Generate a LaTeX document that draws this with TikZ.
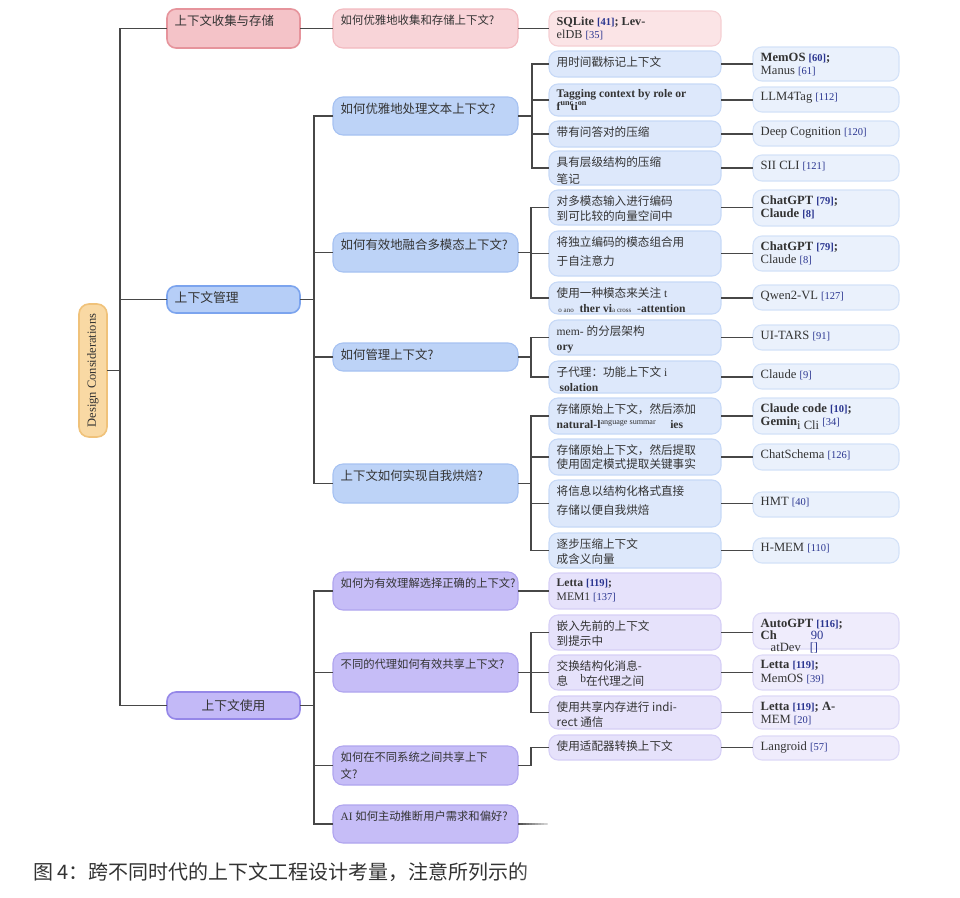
\documentclass[tikz,border=0pt]{standalone}
\usepackage{fontspec}
\setmainfont{Liberation Serif}
\newfontfamily\cjkfont{Noto Sans CJK SC}
\definecolor{linec}{HTML}{474747}
\definecolor{citec}{HTML}{2A3590}
\definecolor{txtc}{HTML}{333333}
\definecolor{rootf}{HTML}{F9D9A4}\definecolor{rootd}{HTML}{F0C27A}
\definecolor{raf}{HTML}{F4C3C8}\definecolor{rad}{HTML}{E6949C}
\definecolor{rbf}{HTML}{F8D4D8}\definecolor{rbd}{HTML}{F2B9BF}
\definecolor{rcf}{HTML}{FBE4E6}\definecolor{rcd}{HTML}{F5CFD3}
\definecolor{baf}{HTML}{B6CEF7}\definecolor{bad}{HTML}{7CA4EE}
\definecolor{bbf}{HTML}{BDD3F7}\definecolor{bbd}{HTML}{A6C2F2}
\definecolor{bcf}{HTML}{DDE8FB}\definecolor{bcd}{HTML}{C7D9F7}
\definecolor{bdf}{HTML}{EAF1FC}\definecolor{bdd}{HTML}{D4E2F8}
\definecolor{paf}{HTML}{C3B9F7}\definecolor{pad}{HTML}{9587E8}
\definecolor{pbf}{HTML}{C6BDF7}\definecolor{pbd}{HTML}{B0A5EF}
\definecolor{pcf}{HTML}{E6E2FB}\definecolor{pcd}{HTML}{D6CFF6}
\definecolor{pdf}{HTML}{EFECFC}\definecolor{pdd}{HTML}{DEDAF7}
\newcommand\zh[1]{{\cjkfont #1}}
\newcommand\ct[1]{{\color{citec}\fontsize{10.5}{12}\selectfont[#1]}}
\tikzset{
  boxbase/.style={rectangle, inner sep=0pt, outer sep=0pt, line width=1.1pt},
  txtbase/.style={inner sep=0pt, align=left, text=txtc},
  con/.style={draw=linec, line width=1.8pt},
  rootbox/.style={boxbase, fill=rootf, draw=rootd, line width=1.6pt, rounded corners=10pt},
  lra/.style={boxbase, fill=raf, draw=rad, line width=1.6pt, rounded corners=9pt},
  lrb/.style={boxbase, fill=rbf, draw=rbd, rounded corners=10pt},
  lrc/.style={boxbase, fill=rcf, draw=rcd, rounded corners=9pt},
  lba/.style={boxbase, fill=baf, draw=bad, line width=1.6pt, rounded corners=9pt},
  lbb/.style={boxbase, fill=bbf, draw=bbd, rounded corners=10pt},
  lbc/.style={boxbase, fill=bcf, draw=bcd, rounded corners=9pt},
  lbd/.style={boxbase, fill=bdf, draw=bdd, rounded corners=9pt},
  lpa/.style={boxbase, fill=paf, draw=pad, line width=1.6pt, rounded corners=9pt},
  lpb/.style={boxbase, fill=pbf, draw=pbd, rounded corners=10pt},
  lpc/.style={boxbase, fill=pcf, draw=pcd, rounded corners=9pt},
  lpd/.style={boxbase, fill=pdf, draw=pdd, rounded corners=9pt},
  lrat/.style={txtbase, font=\fontsize{12.4}{15}\selectfont},
  lrbt/.style={txtbase, font=\fontsize{11.4}{15}\selectfont},
  lrct/.style={txtbase, font=\fontsize{12.2}{13.5}\selectfont},
  lbat/.style={txtbase, font=\fontsize{12.8}{15}\selectfont},
  lbbt/.style={txtbase, font=\fontsize{12.4}{15}\selectfont},
  lbct/.style={txtbase, font=\fontsize{11.6}{15}\selectfont},
  lbdt/.style={txtbase, font=\fontsize{12.6}{13.5}\selectfont},
  lpat/.style={txtbase, font=\fontsize{12.8}{15}\selectfont},
  lpbt/.style={txtbase, font=\fontsize{11.3}{17}\selectfont},
  lpct/.style={txtbase, font=\fontsize{11.6}{15}\selectfont},
  lpdt/.style={txtbase, font=\fontsize{12.6}{13.5}\selectfont},
}
% #1 name, #2 style, #3 x1, #4 y1, #5 x2, #6 y2, #7 text
\newcommand\bx[7]{%
  \node[#2, minimum width={#5pt-#3pt}, minimum height={#6pt-#4pt}] (#1) at ({(#3+#5)/2},{(#4+#6)/2}) {};
  \node[#2t, anchor=north west] (#1t) at ([xshift=7.5pt,yshift=-5.5pt]#1.north west) {#7};
}
\begin{document}
\begin{tikzpicture}[x=1pt,y=-1pt]
\fill[white] (0,0) rectangle (960,897);
\useasboundingbox (0,0) rectangle (960,897);
% trunk coordinates
\coordinate (T0) at (120,0);
\coordinate (T1) at (314,0);
\coordinate (T2) at (531,0);
\coordinate (T2a) at (532,0);
% root
\node[rootbox, minimum width=28pt, minimum height=133pt] (root) at (93,370.5) {};
\node[rotate=90, font=\fontsize{12.5}{14}\selectfont, text=txtc] (rootlbl) at (root.center) {Design Considerations};
% red
\bx{R1}{lra}{167}{9}{300}{48}{\zh{上下文收集与存储}}
\bx{rA}{lrb}{333}{9}{518}{48}{\zh{如何优雅地收集和存储上下文?}}
\bx{rA1}{lrc}{549}{11}{721}{46}{\textbf{SQLite \ct{41}; Lev-}\\elDB \ct{35}}
% blue
\bx{B1}{lba}{167}{286}{300}{313}{\zh{上下文管理}}
\bx{bA}{lbb}{333}{97}{518}{135}{\zh{如何优雅地处理文本上下文?}}
\bx{bB}{lbb}{333}{233}{518}{272}{\zh{如何有效地融合多模态上下文?}}
\bx{bC}{lbb}{333}{343}{518}{371}{\zh{如何管理上下文?}}
\bx{bD}{lbb}{333}{464}{518}{503}{\zh{上下文如何实现自我烘焙?}}
\bx{bA1}{lbc}{549}{51}{721}{77}{\zh{用时间戳标记上下文}}
\bx{bA2}{lbc}{549}{84}{721}{116}{\textbf{Tagging context by role or}\\[-2.5pt]\textbf{f\textsuperscript{unc}\kern-3pt ti\textsuperscript{on}}}
\bx{bA3}{lbc}{549}{121}{721}{147}{\zh{带有问答对的压缩}}
\bx{bA4}{lbc}{549}{151}{721}{185}{\zh{具有层级结构的压缩}\\[2pt]\zh{笔记}}
\bx{bB1}{lbc}{549}{190}{721}{225}{\zh{对多模态输入进行编码}\\\zh{到可比较的向量空间中}}
\bx{bB2}{lbc}{549}{231}{721}{276}{\zh{将独立编码的模态组合用}\\[4pt]\zh{于自注意力}}
\bx{bB3}{lbc}{549}{282}{721}{314}{\zh{使用一种模态来关注} t\\{\scriptsize\ o ano}\ \ \textbf{ther vi}{\scriptsize a cross}\ \ \textbf{-attention}}
\bx{bC1}{lbc}{549}{320}{721}{355}{mem- \zh{的分层架构}\\\textbf{ory}}
\bx{bC2}{lbc}{549}{361}{721}{393}{\zh{子代理：功能上下文} i\\\ \textbf{solation}}
\bx{bD1}{lbc}{549}{398}{721}{434}{\zh{存储原始上下文，然后添加}\\\textbf{natural-l}\textsuperscript{anguage summar}\hspace{14pt}\textbf{ies}}
\bx{bD2}{lbc}{549}{439}{721}{475}{\zh{存储原始上下文，然后提取}\\[-1pt]\zh{使用固定模式提取关键事实}}
\bx{bD3}{lbc}{549}{480}{721}{527}{\zh{将信息以结构化格式直接}\\[4pt]\zh{存储以便自我烘焙}}
\bx{bD4}{lbc}{549}{533}{721}{568}{\zh{逐步压缩上下文}\\\zh{成含义向量}}
\bx{cA1}{lbd}{753}{47}{899}{81}{\textbf{MemOS \ct{60};}\\Manus \ct{61}}
\bx{cA2}{lbd}{753}{87}{899}{112}{LLM4Tag \ct{112}}
\bx{cA3}{lbd}{753}{121}{899}{146}{Deep Cognition \ct{120}}
\bx{cA4}{lbd}{753}{155}{899}{181}{SII CLI \ct{121}}
\bx{cB1}{lbd}{753}{190}{899}{226}{\textbf{ChatGPT \ct{79};}\\\textbf{Claude \ct{8}}}
\bx{cB2}{lbd}{753}{236}{899}{271}{\textbf{ChatGPT \ct{79};}\\Claude \ct{8}}
\bx{cB3}{lbd}{753}{285}{899}{310}{Qwen2-VL \ct{127}}
\bx{cC1}{lbd}{753}{325}{899}{350}{UI-TARS \ct{91}}
\bx{cC2}{lbd}{753}{364}{899}{389}{Claude \ct{9}}
\bx{cD1}{lbd}{753}{398}{899}{434}{\textbf{Claude code \ct{10};}\\\textbf{Gemin}\raisebox{-4pt}{i Cli}\ \ct{34}}
\bx{cD2}{lbd}{753}{444}{899}{470}{ChatSchema \ct{126}}
\bx{cD3}{lbd}{753}{492}{899}{517}{HMT \ct{40}}
\bx{cD4}{lbd}{753}{538}{899}{563}{H-MEM \ct{110}}
% purple
\node[lpa, minimum width=133pt, minimum height=27pt] (P1) at (233.5,705.5) {};
\node[lpat] (P1t) at (P1.center) {\zh{上下文使用}};
\bx{pA}{lpb}{333}{572}{518}{610}{\zh{如何为有效理解选择正确的上下文?}}
\bx{pB}{lpb}{333}{653}{518}{692}{\zh{不同的代理如何有效共享上下文?}}
\bx{pC}{lpb}{333}{746}{518}{785}{\zh{如何在不同系统之间共享上下}\\\zh{文?}}
\bx{pD}{lpb}{333}{805}{518}{843}{AI \zh{如何主动推断用户需求和偏好?}}
\bx{pA1}{lpc}{549}{573}{721}{609}{\textbf{Letta \ct{119};}\\[-1pt]MEM1 \ct{137}}
\bx{pB1}{lpc}{549}{615}{721}{650}{\zh{嵌入先前的上下文}\\\zh{到提示中}}
\bx{pB2}{lpc}{549}{655}{721}{690}{\zh{交换结构化消息-}\\\zh{息}\hspace{12pt}\raisebox{3pt}{b}\zh{在代理之间}}
\bx{pB3}{lpc}{549}{696}{721}{729}{\zh{使用共享内存进行 indi-}\\\zh{rect 通信}}
\bx{pC1}{lpc}{549}{735}{721}{760}{\zh{使用适配器转换上下文}}
\bx{qB1}{lpd}{753}{613}{899}{649}{\textbf{AutoGPT \ct{116};}\\[-1.5pt]\textbf{Ch}\hspace{34pt}{\color{citec}90}\\[-1pt]\hspace{10pt}atDev\hspace{9pt}{\color{citec}[]}}
\bx{qB2}{lpd}{753}{655}{899}{690}{\textbf{Letta \ct{119};}\\MemOS \ct{39}}
\bx{qB3}{lpd}{753}{696}{899}{729}{\textbf{Letta \ct{119}; A-}\\MEM \ct{20}}
\bx{qC1}{lpd}{753}{736}{899}{760}{Langroid \ct{57}}
% connectors: root level
\draw[con] (root.east) -- (root.east -| T0);
\draw[con] (R1.west) -| (P1.west -| T0) -- (P1.west);
\draw[con] (B1.west) -- (B1.west -| T0);
% red chain
\draw[con] (R1.east) -- (rA.west);
\draw[con] (rA.east) -- (rA1.west);
% blue level 2
\draw[con] (B1.east) -- (B1.east -| T1);
\draw[con] (bA.west) -| (bD.west -| T1) -- (bD.west);
\draw[con] (bB.west) -- (bB.west -| T1);
\draw[con] (bC.west) -- (bC.west -| T1);
% blue level 3
\draw[con] (bA.east) -- (bA.east -| T2a);
\draw[con] (bA1.west) -| (bA4.west -| T2a) -- (bA4.west);
\draw[con] (bA2.west) -- (bA2.west -| T2a);
\draw[con] (bA3.west) -- (bA3.west -| T2a);
\draw[con] (bB.east) -- (bB.east -| T2);
\draw[con] (bB1.west) -| (bB3.west -| T2) -- (bB3.west);
\draw[con] (bB2.west) -- (bB2.west -| T2);
\draw[con] (bC.east) -- (bC.east -| T2);
\draw[con] (bC1.west) -| (bC2.west -| T2) -- (bC2.west);
\draw[con] (bD.east) -- (bD.east -| T2);
\draw[con] (bD1.west) -| (bD4.west -| T2) -- (bD4.west);
\draw[con] (bD2.west) -- (bD2.west -| T2);
\draw[con] (bD3.west) -- (bD3.west -| T2);
% blue level 4
\foreach \a/\b in {bA1/cA1,bA2/cA2,bA3/cA3,bA4/cA4,bB1/cB1,bB2/cB2,bB3/cB3,bC1/cC1,bC2/cC2,bD1/cD1,bD2/cD2,bD3/cD3,bD4/cD4}
  \draw[con] (\a.east) -- (\a.east -| \b.west);
% purple level 2
\draw[con] (P1.east) -- (P1.east -| T1);
\draw[con] (pA.west) -| (pD.west -| T1) -- (pD.west);
\draw[con] (pB.west) -- (pB.west -| T1);
\draw[con] (pC.west) -- (pC.west -| T1);
% purple level 3
\draw[con] (pA.east) -- (pA.east -| pA1.west);
\draw[con] (pB.east) -- (pB.east -| T2);
\draw[con] (pB1.west) -| (pB3.west -| T2) -- (pB3.west);
\draw[con] (pB2.west) -- (pB2.west -| T2);
\draw[con] (pC.east) -| (pC1.west -| T2) -- (pC1.west);
\coordinate (pDend) at (548,824);
\draw[con] (pD.east) -- (pD.east -| pDend);
% purple level 4
\foreach \a/\b in {pB1/qB1,pB2/qB2,pB3/qB3,pC1/qC1}
  \draw[con] (\a.east) -- (\a.east -| \b.west);
% caption
\node[anchor=west, inner sep=0pt, text=txtc, font=\fontsize{20}{23}\selectfont] (cap) at (33,872) {\zh{图 4：跨不同时代的上下文工程设计考量，注意所列示的}};
% fade at lower right (stepwise white overlay)
\foreach \i in {1,...,12}
  \fill[white, opacity={\i/12}] ({519.5+(\i-1)*3},795) rectangle ({519.5+\i*3},897);
\fill[white] (555,795) rectangle (620,897);
\end{tikzpicture}
\end{document}
